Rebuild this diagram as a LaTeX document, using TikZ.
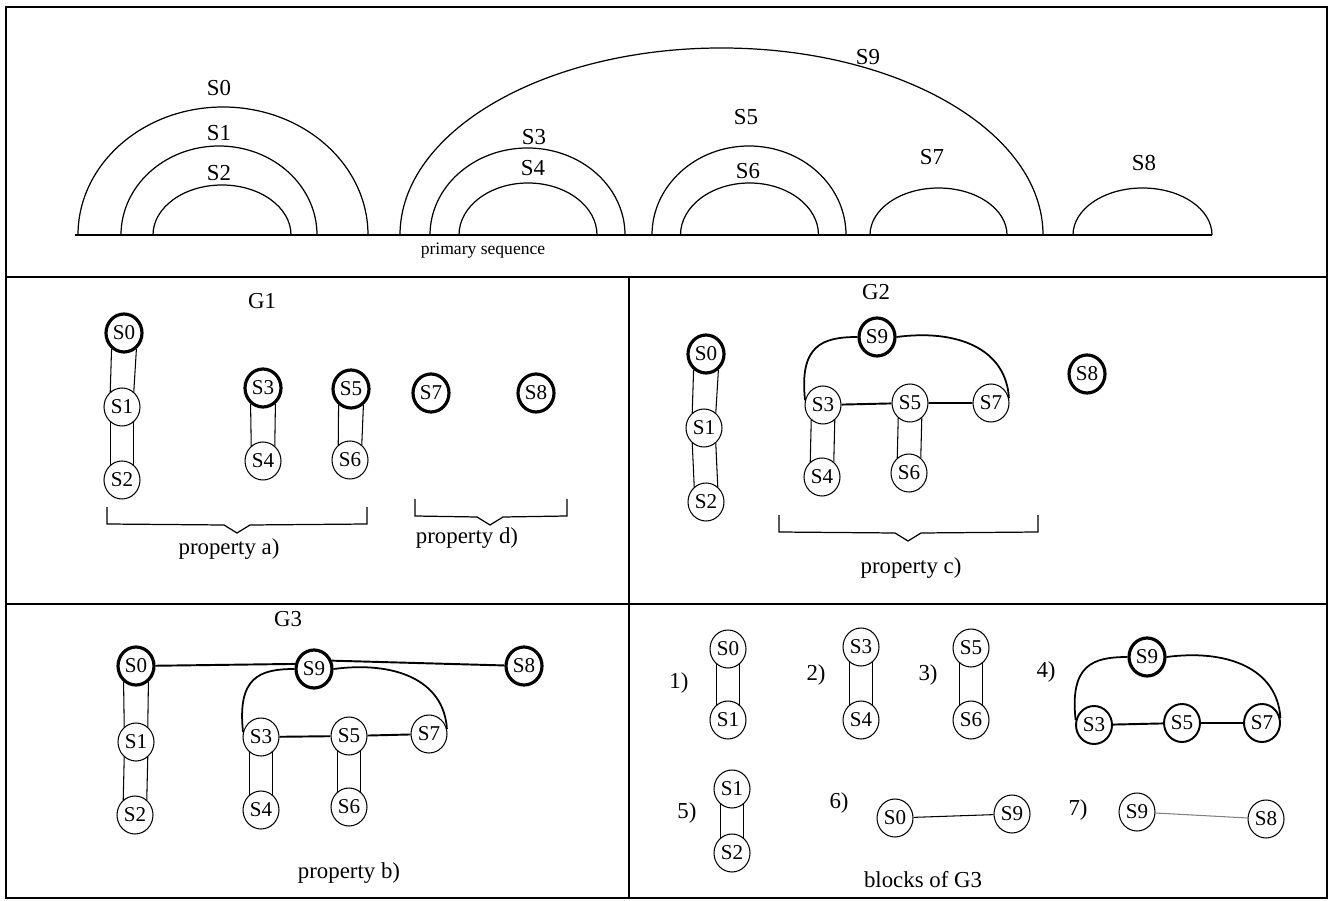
\documentclass[tikz,border=0pt]{standalone}
\usepackage{fontspec}
\setmainfont{Liberation Serif}
\usetikzlibrary{shapes.geometric}
\tikzset{
  snode/.style={draw, ellipse, inner sep=0pt, minimum width=0.72cm, minimum height=0.76cm, line width=0.6pt, font=\fontsize{12}{14}\selectfont},
  rootnode/.style={snode, line width=1.8pt},
  midnode/.style={snode, line width=1.1pt},
  pairline/.style={line width=0.6pt},
  bond/.style={line width=1.1pt},
  hoopline/.style={line width=1pt},
  seqarc/.style={line width=0.7pt},
  frameline/.style={line width=1.2pt},
  bracket/.style={line width=0.7pt},
  lbl/.style={font=\fontsize{13}{15}\selectfont}
}
\def\Ybase{235}
\newcommand{\seqArc}[3]{%
  % #1 centre x, #2 x radius, #3 height
  \draw[seqarc] ({#1-#2},\Ybase) arc[start angle=180, end angle=360, x radius=#2, y radius=#3];
}
\newcommand{\pairBond}[2]{%
  % two parallel strands between #1 and #2
  \draw[pairline] (#1.-128) -- (#2.128);
  \draw[pairline] (#1.-52) -- (#2.52);
}
\newcommand{\hoopBond}[3]{%
  % #1 left node, #2 top node, #3 right node
  \draw[hoopline] (#1.165) .. controls +(-6,-55) and +(-35,0) .. (#2.west);
  \draw[hoopline] (#2.east) .. controls +(60,-8) and +(-3,-50) .. (#3.15);
}
\newcommand{\brackDown}[4]{%
  % #1 left x, #2 right x, #3 top y, #4 tip x
  \draw[bracket] (#1,#3) -- (#1,{#3+17}) -- ({#4-13},{#3+18}) -- (#4,{#3+26})
    -- ({#4+13},{#3+18}) -- (#2,{#3+17}) -- (#2,#3);
}

\begin{document}
\begin{tikzpicture}[x=0.02cm, y=-0.02cm]
  \useasboundingbox (0,0) rectangle (1334,901);

  % frame and panels
  \draw[frameline] (6,7) rectangle (1327,898);
  \draw[frameline] (6,277) -- (1327,277);
  \draw[frameline] (6,604) -- (1327,604);
  \draw[frameline] (629,277) -- (629,898);

  % primary sequence
  \draw[seqarc] (75,\Ybase) -- (1212,\Ybase);
  \seqArc{223}{145}{128}
  \seqArc{219}{98}{89}
  \seqArc{222}{69}{50}
  \seqArc{721.5}{321.5}{187}
  \seqArc{527.5}{97.5}{87}
  \seqArc{528}{69}{52}
  \seqArc{749}{97}{89}
  \seqArc{749.5}{69}{52}
  \seqArc{938.5}{68.5}{47}
  \seqArc{1142.5}{69.5}{47}
  \node[lbl] (tS0) at (219,88) {S0};
  \node[lbl] (tS1) at (219,133) {S1};
  \node[lbl] (tS2) at (219,173) {S2};
  \node[lbl] (tS3) at (534,137) {S3};
  \node[lbl] (tS4) at (533,168) {S4};
  \node[lbl] (tS5) at (746,117) {S5};
  \node[lbl] (tS6) at (748,171) {S6};
  \node[lbl] (tS7) at (932,157) {S7};
  \node[lbl] (tS8) at (1144,163) {S8};
  \node[lbl] (tS9) at (868,57) {S9};
  \node[font=\fontsize{10}{12}\selectfont] (seqname) at (483,251) {primary sequence};

  % G1
  \node[lbl] (g1title) at (262,301) {G1};
  \node[rootnode] (g1s0) at (124,333) {S0};
  \node[snode] (g1s1) at (122,407) {S1};
  \node[snode] (g1s2) at (122,480) {S2};
  \node[rootnode] (g1s3) at (263,388) {S3};
  \node[snode] (g1s4) at (263,461) {S4};
  \node[rootnode] (g1s5) at (351,389) {S5};
  \node[snode] (g1s6) at (350,460) {S6};
  \node[rootnode] (g1s7) at (431,393) {S7};
  \node[rootnode] (g1s8) at (536,393) {S8};
  \pairBond{g1s0}{g1s1}
  \pairBond{g1s1}{g1s2}
  \pairBond{g1s3}{g1s4}
  \pairBond{g1s5}{g1s6}
  \brackDown{107}{367}{507}{237}
  \brackDown{415}{567}{499}{490}
  \node[lbl] (propa) at (229,549) {property a)};
  \node[lbl] (propd) at (467,538) {property d)};

  % G2
  \node[lbl] (g2title) at (876,292) {G2};
  \node[rootnode] (g2s0) at (706,354) {S0};
  \node[snode] (g2s1) at (704,428) {S1};
  \node[snode] (g2s2) at (706,502) {S2};
  \node[rootnode] (g2s9) at (877,337) {S9};
  \node[snode] (g2s3) at (823,405) {S3};
  \node[snode] (g2s5) at (910,403) {S5};
  \node[snode] (g2s7) at (991,403) {S7};
  \node[snode] (g2s4) at (822,477) {S4};
  \node[snode] (g2s6) at (909,473) {S6};
  \node[rootnode] (g2s8) at (1087,374) {S8};
  \pairBond{g2s0}{g2s1}
  \pairBond{g2s1}{g2s2}
  \pairBond{g2s3}{g2s4}
  \pairBond{g2s5}{g2s6}
  \draw[bond] (g2s3) -- (g2s5) -- (g2s7);
  \hoopBond{g2s3}{g2s9}{g2s7}
  \brackDown{779}{1038}{515}{908}
  \node[lbl] (propc) at (911,568) {property c)};

  % G3
  \node[lbl] (g3title) at (288,619) {G3};
  \node[rootnode] (g3s0) at (136,666) {S0};
  \node[rootnode] (g3s9) at (314,669) {S9};
  \node[rootnode] (g3s8) at (524,666) {S8};
  \node[snode] (g3s1) at (136,742) {S1};
  \node[snode] (g3s2) at (135,815) {S2};
  \node[snode] (g3s3) at (261,737) {S3};
  \node[snode] (g3s5) at (349,736) {S5};
  \node[snode] (g3s7) at (429,734) {S7};
  \node[snode] (g3s4) at (261,810) {S4};
  \node[snode] (g3s6) at (349,807) {S6};
  \draw[bond] (g3s0) -- (g3s9.165);
  \draw[bond] (g3s9.25) -- (g3s8);
  \pairBond{g3s0}{g3s1}
  \pairBond{g3s1}{g3s2}
  \pairBond{g3s3}{g3s4}
  \pairBond{g3s5}{g3s6}
  \draw[bond] (g3s3) -- (g3s5) -- (g3s7);
  \hoopBond{g3s3}{g3s9}{g3s7}
  \node[lbl] (propb) at (349,873) {property b)};

  % blocks of G3
  \node[lbl] (bk1) at (679,683) {1)};
  \node[snode] (b1s0) at (728,649) {S0};
  \node[snode] (b1s1) at (728,720) {S1};
  \pairBond{b1s0}{b1s1}
  \node[lbl] (bk2) at (816,675) {2)};
  \node[snode] (b2s3) at (861,647) {S3};
  \node[snode] (b2s4) at (861,720) {S4};
  \pairBond{b2s3}{b2s4}
  \node[lbl] (bk3) at (928,675) {3)};
  \node[snode] (b3s5) at (971,648) {S5};
  \node[snode] (b3s6) at (971,720) {S6};
  \pairBond{b3s5}{b3s6}
  \node[lbl] (bk4) at (1046,672) {4)};
  \node[rootnode] (b4s9) at (1147,657) {S9};
  \node[midnode] (b4s3) at (1094,725) {S3};
  \node[midnode] (b4s5) at (1182,723) {S5};
  \node[midnode] (b4s7) at (1262,723) {S7};
  \draw[bond] (b4s3) -- (b4s5) -- (b4s7);
  \hoopBond{b4s3}{b4s9}{b4s7}
  \node[lbl] (bk5) at (687,813) {5)};
  \node[snode] (b5s1) at (732,789) {S1};
  \node[snode] (b5s2) at (732,853) {S2};
  \pairBond{b5s1}{b5s2}
  \node[lbl] (bk6) at (839,803) {6)};
  \node[snode] (b6s0) at (895,818) {S0};
  \node[snode] (b6s9) at (1012,814) {S9};
  \draw[pairline] (b6s0) -- (b6s9);
  \node[lbl] (bk7) at (1078,810) {7)};
  \node[snode] (b7s9) at (1137,812) {S9};
  \node[snode] (b7s8) at (1266,819) {S8};
  \draw[pairline, gray] (b7s9) -- (b7s8);
  \node[lbl] (blocks) at (923,880) {blocks of G3};
\end{tikzpicture}
\end{document}
